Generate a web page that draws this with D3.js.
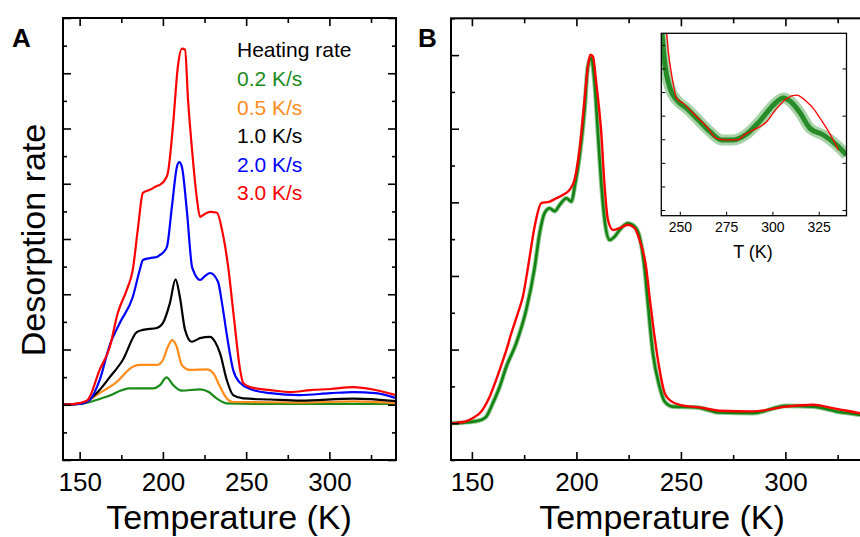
<!DOCTYPE html>
<html>
<head>
<meta charset="utf-8">
<script src="https://cdn.jsdelivr.net/npm/d3@7"></script>
<style>
body { margin: 0; background: #fff; }
svg { display: block; font-family: "Liberation Sans", Arial, sans-serif; }
</style>
</head>
<body>
<div id="chart"></div>
<script>
(function(){

// ---- panel A : desorption traces for each heating rate, [T (K), rate] ----
var rateGreen = [[140,0],[151.8,0.04],[166.1,0.29],[180.1,0.59],[194.2,0.59],[198.2,0.71],[202.2,0.99],
	[206.2,0.71],[211.3,0.51],[222.3,0.56],[227.3,0.47],[232.3,0.23],[238.4,0.05],[260,0.03],[340,0.03]];
var rateOrange = [[140,0],[151.8,0.06],[162,0.42],[172.3,0.83],[181.9,1.38],[186.1,1.44],[196.4,1.44],
	[200,1.62],[203,2.1],[205.6,2.34],[208.3,2.1],[211.3,1.44],[216.3,1.26],[226.3,1.28],[230.3,1.14],
	[234.3,0.65],[238.4,0.23],[242.2,0.1],[282.5,0.08],[314.5,0.12],[340,0.06]];
var rateBlack = [[140,0],[151.8,0.06],[160.2,0.42],[168.1,1.0],[175.9,1.62],[184.3,2.63],[188,2.71],
	[196.4,2.78],[200,2.96],[204.2,3.68],[207.6,4.54],[210.2,3.9],[213.3,2.71],[217.3,2.28],[222.3,2.41],
	[228.3,2.46],[231.3,2.28],[234.3,1.87],[238.4,0.89],[242.2,0.35],[248.2,0.23],[264.5,0.19],
	[282.5,0.15],[314.5,0.22],[340,0.13]];
var rateBlue = [[140,0],[150,0.03],[156,0.17],[162,0.89],[168.1,2.16],[174.1,2.96],[181.9,3.9],
	[186.1,4.88],[188,5.24],[192.2,5.31],[196.4,5.35],[198.2,5.42],[200,5.5],[202.4,5.71],[205.4,7.16],
	[208.4,8.61],[209.8,8.78],[211.4,8.61],[214.5,6.95],[217.5,4.99],[218.1,4.88],[220.5,4.59],
	[222.3,4.52],[225.3,4.66],[228.3,4.77],[233.1,4.45],[235.5,3.68],[238.6,2.45],[242.2,1.26],
	[246.4,0.79],[252.4,0.57],[264.5,0.42],[282.5,0.35],[300.6,0.42],[314.5,0.46],[327.7,0.42],[340,0.24]];
var rateRed = [[140,0],[150,0.06],[154.8,0.17],[162,1.26],[168.1,2.09],[172.9,3.32],[178.3,4.16],
	[181.9,4.88],[184.9,6.33],[188,7.67],[192.2,7.78],[196.4,7.92],[198.2,7.96],[201.2,8.14],[203,8.4],
	[206,10.06],[209,12.24],[211.4,12.89],[213.3,12.85],[215.1,11.04],[217.5,9.23],[220.5,7.42],
	[222.3,6.8],[225.3,6.91],[228.3,6.98],[232.5,6.95],[235.5,6.33],[239.2,4.99],[242.8,3.07],
	[246.4,1.26],[248.2,0.79],[254.2,0.61],[264.5,0.53],[276.5,0.46],[288.6,0.53],[300.6,0.57],
	[314.5,0.64],[324.7,0.57],[340,0.35]];

var legendTitle = "Heating rate";
var legendLabels = ["0.2 K/s", "0.5 K/s", "1.0 K/s", "2.0 K/s", "3.0 K/s"];
var legendColors = ["#1a8a1a", "#ff8c1a", "#000000", "#0000ff", "#ff0000"];

// ---- panel B : measured (green) vs simulated (red) ----
var bGreen = [[140,0],[148.9,0.03],[154.5,0.09],[156.9,0.18],[160,0.54],[163.3,0.99],[166.5,1.54],
	[171.2,2.17],[176,3.08],[180,4.22],[182.4,5.16],[184.8,5.71],[187.2,5.84],[189.6,5.76],[192,5.93],
	[195.2,6.11],[197.6,6.02],[199.2,6.43],[201.5,7.24],[203.9,8.51],[205.5,9.69],[207.1,9.92],
	[208.7,9.24],[210.3,7.88],[211.9,6.52],[213.5,5.52],[215.9,4.98],[218.3,5.07],[220.7,5.25],
	[224.6,5.43],[227.9,5.34],[230.2,5.07],[232.6,4.22],[234.2,3.26],[236.6,1.9],[239.8,0.99],
	[242.2,0.59],[246.2,0.45],[257.4,0.43],[268.5,0.29],[284.4,0.27],[300.4,0.47],[313.2,0.45],
	[324.4,0.32],[335.7,0.23],[340,0.2]];
var bRed = [[140,0],[146.5,0.04],[150.5,0.14],[154.5,0.32],[158.5,0.72],[163.3,1.45],[166.5,1.99],
	[168.9,2.45],[172,2.99],[174.4,3.44],[176.8,4.22],[180,5.34],[183.2,5.98],[187.2,6.02],[190.4,6.11],
	[193.5,6.2],[196.7,6.34],[199.1,6.61],[201.5,7.43],[203.9,8.79],[205.5,9.69],[206.6,10.01],
	[207.9,9.96],[209.5,9.24],[211.9,7.88],[213.5,6.43],[215.1,5.52],[217.5,5.25],[220.7,5.3],
	[224.6,5.39],[227.9,5.3],[230.2,4.98],[233.4,4.22],[235,3.44],[237.4,2.35],[239.8,1.45],
	[242.2,0.82],[244.6,0.63],[249.4,0.5],[258.9,0.43],[268.5,0.34],[284.4,0.32],[300.4,0.45],
	[313.2,0.5],[322.7,0.41],[335.7,0.27],[340,0.23]];

// ---- inset : high-T region enlarged ----
var insetGreen = [[240,7.8],[242,6.14],[244.7,5.16],[248.3,4.66],[253.7,4.31],[260.9,3.74],[266.3,3.32],
	[272.6,2.97],[278.9,2.97],[286.1,3.22],[293.3,3.78],[300.5,4.45],[305.9,4.75],[309.5,4.62],
	[314.9,4.12],[320.3,3.46],[327.5,3.18],[334.7,2.75],[340,2.33]];
var insetRed = [[241.5,8.6],[242.9,7.49],[243.8,6.71],[245.6,5.72],[248.3,4.73],[251.9,4.52],[255.5,4.24],
	[259.1,3.95],[264.5,3.53],[269.9,3.04],[275.3,2.97],[280.7,2.97],[286.1,3.25],[291.5,3.46],
	[296.9,3.74],[302.3,4.31],[307.7,4.73],[313.1,4.87],[318.5,4.59],[322.1,4.31],[325.7,3.89],
	[329.3,3.46],[332.9,2.97],[335.6,2.54]];

var majorT = [150, 200, 250, 300];
var minorT = [175, 225, 275, 325];
var insetT = [250, 275, 300, 325];

var W = 860, H = 537;
var svg = d3.select('#chart').append('svg').attr('width', W).attr('height', H);

function tidy(s) {
	s.select('.domain').remove();
	s.selectAll('line').attr('stroke-width', 1.6);
}

function drawAxes(g, x, y, yMajor, yMinor, left, right, top, bottom, showRight) {
	g.append('g').attr('transform', 'translate(0,' + bottom + ')')
		.call(d3.axisBottom(x).tickValues(majorT).tickSize(-8).tickPadding(13).tickFormat(d3.format('d')))
		.call(tidy)
		.call(function(s){ s.selectAll('text').attr('font-size', 26).attr('font-family', null); });
	g.append('g').attr('transform', 'translate(0,' + bottom + ')')
		.call(d3.axisBottom(x).tickValues(minorT).tickSize(-5).tickFormat('')).call(tidy);
	g.append('g').attr('transform', 'translate(0,' + top + ')')
		.call(d3.axisTop(x).tickValues(majorT).tickSize(-8).tickFormat('')).call(tidy);
	g.append('g').attr('transform', 'translate(0,' + top + ')')
		.call(d3.axisTop(x).tickValues(minorT).tickSize(-5).tickFormat('')).call(tidy);
	g.append('g').attr('transform', 'translate(' + left + ',0)')
		.call(d3.axisLeft(y).tickValues(yMajor).tickSize(-8).tickFormat('')).call(tidy);
	g.append('g').attr('transform', 'translate(' + left + ',0)')
		.call(d3.axisLeft(y).tickValues(yMinor).tickSize(-4).tickFormat('')).call(tidy);
	if (showRight) {
		g.append('g').attr('transform', 'translate(' + right + ',0)')
			.call(d3.axisRight(y).tickValues(yMajor).tickSize(-8).tickFormat('')).call(tidy);
		g.append('g').attr('transform', 'translate(' + right + ',0)')
			.call(d3.axisRight(y).tickValues(yMinor).tickSize(-4).tickFormat('')).call(tidy);
	}
	g.append('rect')
		.attr('x', left).attr('y', top)
		.attr('width', right - left).attr('height', bottom - top)
		.attr('fill', 'none').attr('stroke', '#000').attr('stroke-width', 2);
}

// ================= panel A =================
var xA = d3.scaleLinear().domain([140, 340]).range([63, 396]);
var yA = d3.scaleLinear().domain([-2, 14]).range([460, 18]);
var lineA = d3.line().x(function(d){ return xA(d[0]); }).y(function(d){ return yA(d[1]); })
	.curve(d3.curveMonotoneX);

var gA = svg.append('g');
[rateGreen, rateOrange, rateBlack, rateBlue, rateRed].forEach(function(s, i) {
	gA.append('path').datum(s)
		.attr('d', lineA)
		.attr('fill', 'none')
		.attr('stroke', legendColors[i])
		.attr('stroke-width', 2.2)
		.attr('stroke-linejoin', 'round');
});

drawAxes(gA, xA, yA, [-2,0,2,4,6,8,10,12,14], [-1,1,3,5,7,9,11,13], 63, 396, 18, 460, true);

gA.append('text').attr('x', 237).attr('y', 57).attr('font-size', 21).text(legendTitle);
legendLabels.forEach(function(l, i) {
	gA.append('text').attr('x', 237).attr('y', 86 + i * 28.6)
		.attr('font-size', 21).attr('fill', legendColors[i]).text(l);
});

gA.append('text').attr('x', 12).attr('y', 47).attr('font-size', 26).attr('font-weight', 'bold').text('A');
gA.append('text').attr('transform', 'translate(45,240) rotate(-90)')
	.attr('text-anchor', 'middle').attr('font-size', 34).text('Desorption rate');
gA.append('text').attr('x', 229).attr('y', 529)
	.attr('text-anchor', 'middle').attr('font-size', 34).text('Temperature (K)');

// ================= panel B =================
var xB = d3.scaleLinear().domain([140, 340]).range([451, 869]);
var yB = d3.scaleLinear().domain([-1, 11]).range([460, 18.3]);
var lineB = d3.line().x(function(d){ return xB(d[0]); }).y(function(d){ return yB(d[1]); })
	.curve(d3.curveMonotoneX);

var gB = svg.append('g');
gB.append('path').datum(bGreen).attr('d', lineB)
	.attr('fill', 'none').attr('stroke', '#3a9a3a').attr('stroke-width', 4.6).attr('stroke-opacity', 0.55);
gB.append('path').datum(bGreen).attr('d', lineB)
	.attr('fill', 'none').attr('stroke', '#128212').attr('stroke-width', 2.6);
gB.append('path').datum(bRed).attr('d', lineB)
	.attr('fill', 'none').attr('stroke', '#ff0000').attr('stroke-width', 2.4);

drawAxes(gB, xB, yB, [0,2,4,6,8,10], [-1,1,3,5,7,9,11], 451, 869, 18.3, 460, false);

gB.append('text').attr('x', 418).attr('y', 47).attr('font-size', 26).attr('font-weight', 'bold').text('B');
gB.append('text').attr('x', 662).attr('y', 529)
	.attr('text-anchor', 'middle').attr('font-size', 34).text('Temperature (K)');

// ---- inset ----
var iL = 661.3, iR = 846.5, iT = 33.3, iB = 215.7;
var xI = d3.scaleLinear().domain([240, 340]).range([iL, iR]);
var yI = d3.scaleLinear().domain([-0.24, 7.49]).range([iB, iT]);
var lineI = d3.line().x(function(d){ return xI(d[0]); }).y(function(d){ return yI(d[1]); })
	.curve(d3.curveMonotoneX);

var gI = svg.append('g');
gI.append('rect').attr('x', iL).attr('y', iT).attr('width', iR - iL).attr('height', iB - iT).attr('fill', '#fff');
svg.append('clipPath').attr('id', 'insetClip')
	.append('rect').attr('x', iL).attr('y', iT).attr('width', iR - iL).attr('height', iB - iT);
var gC = gI.append('g').attr('clip-path', 'url(#insetClip)');
gC.append('path').datum(insetGreen).attr('d', lineI)
	.attr('fill', 'none').attr('stroke', '#52a852').attr('stroke-width', 11).attr('stroke-opacity', 0.5)
	.attr('stroke-linejoin', 'round');
gC.append('path').datum(insetGreen).attr('d', lineI)
	.attr('fill', 'none').attr('stroke', '#107f10').attr('stroke-width', 5).attr('stroke-opacity', 0.85)
	.attr('stroke-linejoin', 'round');
gC.append('path').datum(insetRed).attr('d', lineI)
	.attr('fill', 'none').attr('stroke', '#ff0000').attr('stroke-width', 1.3);

gI.append('g').attr('transform', 'translate(0,' + iB + ')')
	.call(d3.axisBottom(xI).tickValues(insetT).tickSize(-4).tickPadding(6).tickFormat(d3.format('d')))
	.call(function(s){ s.select('.domain').remove(); s.selectAll('text').attr('font-size', 14).attr('font-family', null); });
gI.append('g').attr('transform', 'translate(' + iL + ',0)')
	.call(d3.axisLeft(yI).tickValues([0,1,2,3,4,5,6,7]).tickSize(-4).tickFormat(''))
	.call(function(s){ s.select('.domain').remove(); });
gI.append('g').attr('transform', 'translate(' + iR + ',0)')
	.call(d3.axisRight(yI).tickValues([0,2,4,6]).tickSize(-4).tickFormat(''))
	.call(function(s){ s.select('.domain').remove(); });
gI.append('rect').attr('x', iL).attr('y', iT).attr('width', iR - iL).attr('height', iB - iT)
	.attr('fill', 'none').attr('stroke', '#000').attr('stroke-width', 1.3);
gI.append('text').attr('x', 753).attr('y', 258).attr('text-anchor', 'middle').attr('font-size', 18).text('T (K)');

})();
</script>
</body>
</html>
